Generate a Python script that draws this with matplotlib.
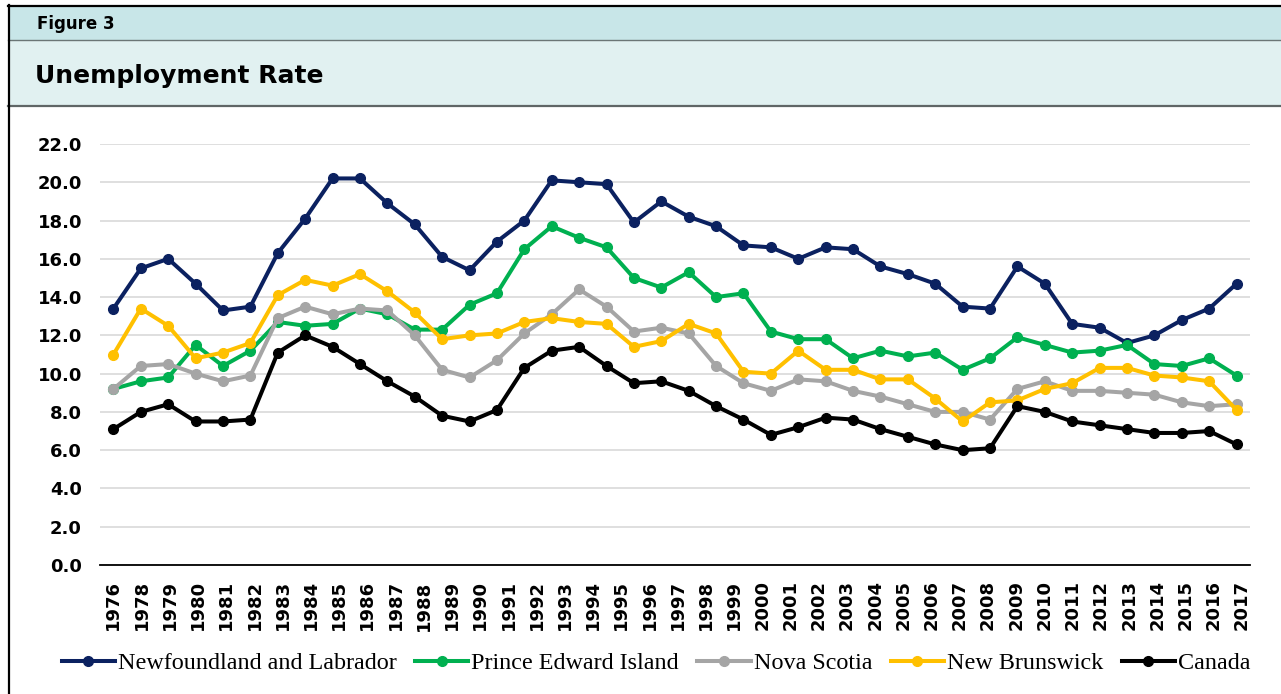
import numpy as np
import matplotlib
matplotlib.use("Agg")
import matplotlib.pyplot as plt
from matplotlib.patches import Rectangle
from matplotlib.lines import Line2D

# data
years = list(range(1976, 2018))
tick_labels = ["1976"] + [str(y) for y in range(1978, 2018)]

nl = [13.4, 15.5, 16.0, 14.7, 13.3, 13.5, 16.3, 18.1, 20.2, 20.2, 18.9, 17.8, 16.1, 15.4,
      16.9, 18.0, 20.1, 20.0, 19.9, 17.9, 19.0, 18.2, 17.7, 16.7, 16.6, 16.0, 16.6, 16.5,
      15.6, 15.2, 14.7, 13.5, 13.4, 15.6, 14.7, 12.6, 12.4, 11.6, 12.0, 12.8, 13.4, 14.7]
pei = [9.2, 9.6, 9.8, 11.5, 10.4, 11.2, 12.7, 12.5, 12.6, 13.4, 13.1, 12.3, 12.3, 13.6,
       14.2, 16.5, 17.7, 17.1, 16.6, 15.0, 14.5, 15.3, 14.0, 14.2, 12.2, 11.8, 11.8, 10.8,
       11.2, 10.9, 11.1, 10.2, 10.8, 11.9, 11.5, 11.1, 11.2, 11.5, 10.5, 10.4, 10.8, 9.9]
ns = [9.2, 10.4, 10.5, 10.0, 9.6, 9.9, 12.9, 13.5, 13.1, 13.4, 13.3, 12.0, 10.2, 9.8,
      10.7, 12.1, 13.1, 14.4, 13.5, 12.2, 12.4, 12.1, 10.4, 9.5, 9.1, 9.7, 9.6, 9.1,
      8.8, 8.4, 8.0, 8.0, 7.6, 9.2, 9.6, 9.1, 9.1, 9.0, 8.9, 8.5, 8.3, 8.4]
nb = [11.0, 13.4, 12.5, 10.8, 11.1, 11.6, 14.1, 14.9, 14.6, 15.2, 14.3, 13.2, 11.8, 12.0,
      12.1, 12.7, 12.9, 12.7, 12.6, 11.4, 11.7, 12.6, 12.1, 10.1, 10.0, 11.2, 10.2, 10.2,
      9.7, 9.7, 8.7, 7.5, 8.5, 8.6, 9.2, 9.5, 10.3, 10.3, 9.9, 9.8, 9.6, 8.1]
canada = [7.1, 8.0, 8.4, 7.5, 7.5, 7.6, 11.1, 12.0, 11.4, 10.5, 9.6, 8.8, 7.8, 7.5,
          8.1, 10.3, 11.2, 11.4, 10.4, 9.5, 9.6, 9.1, 8.3, 7.6, 6.8, 7.2, 7.7, 7.6,
          7.1, 6.7, 6.3, 6.0, 6.1, 8.3, 8.0, 7.5, 7.3, 7.1, 6.9, 6.9, 7.0, 6.3]

series = [
    ("Newfoundland and Labrador", nl, "#0b2160"),
    ("Prince Edward Island", pei, "#00b050"),
    ("Nova Scotia", ns, "#a5a5a5"),
    ("New Brunswick", nb, "#ffc000"),
    ("Canada", canada, "#000000"),
]

W, H = 1281, 694
fig = plt.figure(figsize=(W / 100, H / 100), dpi=100)
fig.patch.set_facecolor("white")

def fy(px):
    # pixel row (from top) -> figure fraction
    return 1 - px / H

def fx(px):
    return px / W

# header bands
fig.patches.append(Rectangle((fx(8), fy(39.5)), 1, fy(6.5) - fy(39.5), transform=fig.transFigure,
                             facecolor="#c8e6e8", edgecolor="none", zorder=0))
fig.patches.append(Rectangle((fx(8), fy(105.5)), 1, fy(40.5) - fy(105.5), transform=fig.transFigure,
                             facecolor="#e1f1f1", edgecolor="none", zorder=0))
fig.lines.append(Line2D([fx(8), 1], [fy(5.5), fy(5.5)], transform=fig.transFigure, color="black", lw=1.6))
fig.lines.append(Line2D([fx(8), 1], [fy(39.8), fy(39.8)], transform=fig.transFigure, color="#6b7676", lw=1.0))
fig.lines.append(Line2D([fx(8), 1], [fy(106), fy(106)], transform=fig.transFigure, color="#5f6666", lw=1.6))
fig.lines.append(Line2D([fx(8.5), fx(8.5)], [0, fy(5)], transform=fig.transFigure, color="black", lw=1.6))

fig.text(fx(37), fy(24), "Figure 3", fontsize=12, fontweight="bold", family="DejaVu Sans",
         va="center", ha="left")
fig.text(fx(35), fy(76), "Unemployment Rate", fontsize=18, fontweight="bold", family="DejaVu Sans",
         va="center", ha="left")

ax = fig.add_axes([fx(100), fy(565), fx(1250) - fx(100), fy(144) - fy(565)])
x = np.arange(len(years))
for name, vals, col in series:
    ax.plot(x, vals, color=col, lw=2.9, marker="o", markersize=7, label=name, zorder=3)

ax.set_xlim(-0.49, len(years) - 0.51)
ax.set_ylim(0, 22)
ax.set_yticks(np.arange(0, 23, 2))
ax.set_yticklabels([f"{v:.1f}" for v in np.arange(0, 23, 2)], fontsize=13, fontweight="bold",
                   family="DejaVu Sans")
ax.yaxis.grid(True, color="#d9d9d9", lw=1.2)
ax.set_axisbelow(True)
for s in ["top", "right", "left"]:
    ax.spines[s].set_visible(False)
ax.spines["bottom"].set_color("black")
ax.spines["bottom"].set_linewidth(1.3)
ax.spines["bottom"].set_zorder(4)
ax.tick_params(axis="y", length=0, pad=13)
ax.tick_params(axis="x", length=0, pad=11)

# 41 labels spread over 42 points, as in the source chart
ax.set_xticks(np.linspace(0, 41.2, len(tick_labels)))
ax.set_xticklabels(tick_labels, rotation=90, fontsize=13, fontweight="bold", family="DejaVu Sans")

leg = fig.legend(loc="center", bbox_to_anchor=(fx(656), fy(663)), ncol=5, frameon=False,
                 prop={"family": "Liberation Serif", "size": 17.4}, handlelength=2.2,
                 handletextpad=0.13, columnspacing=0.76, borderaxespad=0)

fig.savefig("out.png", dpi=100)
